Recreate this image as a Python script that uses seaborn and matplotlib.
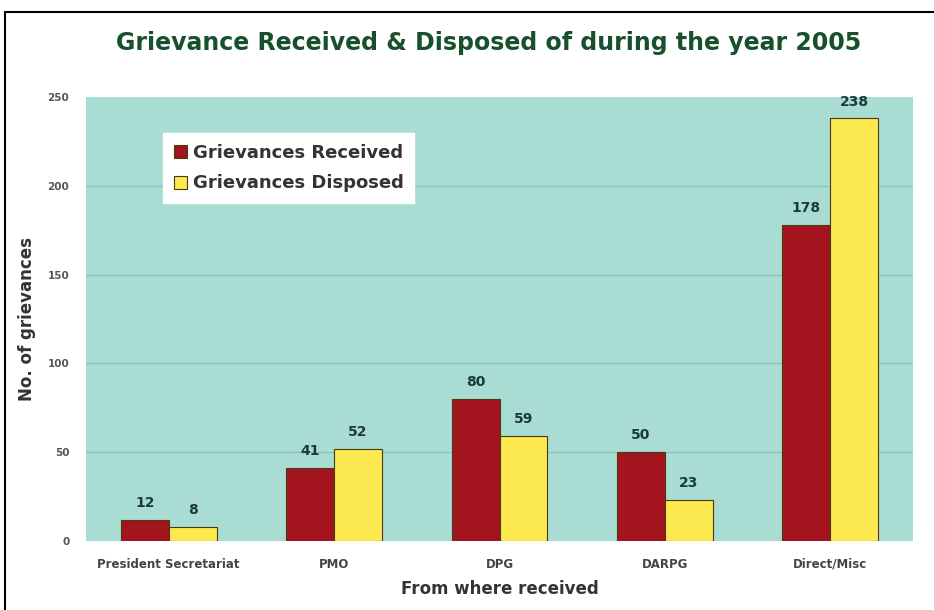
import matplotlib
matplotlib.use("Agg")
import matplotlib.pyplot as plt
import seaborn as sns
import pandas as pd
from matplotlib.patches import Rectangle

categories = ["President Secretariat", "PMO", "DPG", "DARPG", "Direct/Misc"]
received = [12, 41, 80, 50, 178]
disposed = [8, 52, 59, 23, 238]
series_names = ["Grievances Received", "Grievances Disposed"]
yticks = [0, 50, 100, 150, 200, 250]

df = pd.DataFrame({
    "Source": categories * 2,
    "Count": received + disposed,
    "Series": [series_names[0]] * len(categories) + [series_names[1]] * len(categories),
})

sns.set_style("white")
plt.rcParams["font.family"] = ["DejaVu Sans"]

fig = plt.figure(figsize=(9.34, 6.10), dpi=100)
ax = fig.add_axes([0.0921, 0.1131, 0.8854, 0.7279])

palette = {series_names[0]: "#a3141f", series_names[1]: "#fbe94f"}
sns.barplot(data=df, x="Source", y="Count", hue="Series", palette=palette,
            width=0.58, gap=0, edgecolor="#4a3a10", linewidth=0.8,
            saturation=1, ax=ax, zorder=3)

ax.set_facecolor("#a9dcd2")
ax.set_ylim(0, 250)
ax.set_yticks(yticks)
ax.set_xlim(-0.5, len(categories) - 0.5)
ax.yaxis.grid(True, color="#8cc4ba", linewidth=1, zorder=0)
ax.set_axisbelow(True)
gl = ax.yaxis.get_gridlines()
gl[0].set_visible(False)
gl[-1].set_visible(False)
for s in ax.spines.values():
    s.set_visible(False)
ax.tick_params(axis="both", length=0)
ax.tick_params(axis="y", labelsize=7.5, labelcolor="#555555", pad=12)
ax.tick_params(axis="x", labelsize=8.5, labelcolor="#444444", pad=12)
for lbl in ax.get_yticklabels() + ax.get_xticklabels():
    lbl.set_fontweight("bold")

for cont in ax.containers:
    ax.bar_label(cont, padding=7, fontsize=10, fontweight="bold", color="#1d3a3a")

ax.set_xlabel("From where received", fontsize=12, fontweight="bold", color="#333333", labelpad=7)
ax.set_ylabel("No. of grievances", fontsize=12, fontweight="bold", color="#333333", labelpad=8)

leg = ax.legend(loc="upper left", bbox_to_anchor=(0.093, 0.919), borderaxespad=0,
                frameon=True,
                fancybox=False, framealpha=1, edgecolor="white", facecolor="white",
                prop={"weight": "bold", "size": 13}, handlelength=0.75, handleheight=0.75,
                handletextpad=0.3, labelspacing=0.7, borderpad=0.6)
for t in leg.get_texts():
    t.set_color("#333333")

fig.text(0.523, 0.93, "Grievance Received & Disposed of during the year 2005",
         ha="center", va="center", fontsize=17, fontweight="bold", color="#17502a")

fig.patches.append(Rectangle((5 / 934, -0.1), 1.2, 0.1 + (610 - 12) / 610,
                             transform=fig.transFigure, fill=False,
                             edgecolor="black", linewidth=1.5, zorder=10))

fig.savefig("out.png", dpi=100)
